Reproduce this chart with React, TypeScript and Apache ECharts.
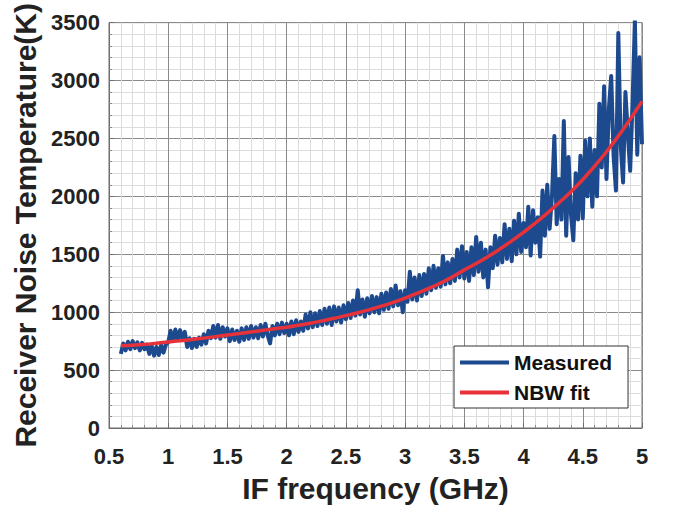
import React, { useEffect, useRef } from "react";
import * as echarts from "echarts";

// Measured receiver noise temperature (K), sampled every 0.02 GHz from 0.6 GHz
const measuredStartGHz = 0.6;
const measuredStepGHz = 0.02;
const measuredK = [
  640, 730, 670, 745, 680, 750, 690, 740, 670, 735,
  680, 720, 640, 710, 625, 700, 630, 715, 650, 720,
  740, 840, 750, 850, 760, 845, 770, 830, 700, 775,
  690, 770, 700, 780, 720, 810, 730, 840, 775, 880,
  780, 890, 770, 870, 790, 860, 750, 850, 760, 840,
  745, 860, 760, 870, 770, 880, 780, 870, 775, 890,
  790, 900, 800, 730, 880, 800, 900, 810, 910, 820,
  900, 800, 920, 810, 930, 830, 920, 840, 980, 860,
  1000, 870, 990, 880, 1010, 890, 1030, 900, 1040, 890,
  1050, 920, 1040, 910, 1060, 940, 1080, 950, 1100, 970,
  1190, 980, 1110, 960, 1120, 990, 1140, 1000, 1130, 990,
  1160, 1020, 1170, 1030, 1200, 1050, 1230, 1060, 1180, 1000,
  1190, 1090, 1350, 1110, 1300, 1100, 1320, 1140, 1330, 1160,
  1380, 1190, 1400, 1210, 1380, 1220, 1485, 1240, 1430, 1250,
  1460, 1270, 1540, 1300, 1570, 1290, 1520, 1270, 1560, 1320,
  1650, 1350, 1600, 1300, 1540, 1215, 1560, 1380, 1660, 1410,
  1640, 1430, 1760, 1460, 1720, 1440, 1790, 1500, 1850, 1520,
  1770, 1560, 1910, 1490, 1880, 1600, 1820, 1480, 2050, 1660,
  2100, 1720, 2000, 2520, 1760, 2150, 1800, 2650, 1660, 2340,
  1850, 1620, 2200, 1800, 2350, 1810, 2480, 2000, 2500, 1910,
  2400, 2000, 2800, 2250, 2950, 2150, 2750, 3040, 2350, 2050,
  3410, 2450, 2120, 2900, 2550, 2220, 2800, 3520, 2360, 3200,
  2450,
];

// NBW fit (K), sampled every 0.1 GHz from 0.6 GHz
const fitFreqGHz = [
  0.6, 0.7, 0.8, 0.9, 1.0, 1.1, 1.2, 1.3, 1.4, 1.5, 1.6, 1.7, 1.8, 1.9, 2.0, 2.1, 2.2, 2.3, 2.4, 2.5,
  2.6, 2.7, 2.8, 2.9, 3.0, 3.1, 3.2, 3.3, 3.4, 3.5, 3.6, 3.7, 3.8, 3.9, 4.0, 4.1, 4.2, 4.3, 4.4, 4.5,
  4.6, 4.7, 4.8, 4.9, 5.0,
];
const fitK = [
  710, 715, 722, 732, 743, 753, 764, 776, 789, 802, 815, 829, 843, 857, 870, 887, 905, 925, 947, 970,
  995, 1022, 1052, 1085, 1122, 1162, 1205, 1252, 1305, 1365, 1420, 1480, 1545, 1615, 1690, 1770, 1855, 1945, 2040, 2145,
  2260, 2385, 2520, 2665, 2820,
];

const xTicks = { min: 0.5, max: 5, interval: 0.5 };
const yTicks = { min: 0, max: 3500, interval: 500 };
const seriesNames = ["Measured", "NBW fit"];
const xTitle = "IF frequency (GHz)";
const yTitle = "Receiver Noise Temperature(K)";

export default function App() {
  const ref = useRef<HTMLDivElement>(null);
  useEffect(() => {
    if (!ref.current) return;
    const chart = echarts.init(ref.current, undefined, { renderer: "svg" });
    const measured = measuredK.map((v, i) => [
      +(measuredStartGHz + i * measuredStepGHz).toFixed(2),
      v,
    ]);
    const fit = fitK.map((v, i) => [fitFreqGHz[i], v]);
    const font = "'Liberation Sans', Arial, sans-serif";
    const majorColor = "#8a8a8a";
    const minorColor = "#dcdcdc";
    chart.setOption({
      animation: false,
      backgroundColor: "#ffffff",
      textStyle: { fontFamily: font },
      grid: {
        left: 109,
        right: 34,
        top: 16,
        bottom: 80,
        show: true,
        borderColor: "#6e6e6e",
        borderWidth: 1,
        backgroundColor: "transparent",
      },
      legend: {
        orient: "vertical",
        left: 454,
        top: 346,
        data: seriesNames,
        icon: "rect",
        itemWidth: 49,
        itemHeight: 4,
        itemGap: 9,
        padding: [6, 16, 5, 6],
        backgroundColor: "#ffffff",
        borderColor: "#333333",
        borderWidth: 1,
        borderRadius: 0,
        textStyle: {
          fontFamily: font,
          fontSize: 21,
          fontWeight: "bold",
          color: "#111111",
          padding: [0, 0, 0, 0],
        },
      },
      xAxis: {
        type: "value",
        min: xTicks.min,
        max: xTicks.max,
        interval: xTicks.interval,
        name: xTitle,
        nameLocation: "middle",
        nameGap: 45,
        nameTextStyle: {
          fontFamily: font,
          fontSize: 30,
          fontWeight: "bold",
          color: "#222222",
        },
        axisLine: { show: true, onZero: false, lineStyle: { color: "#6e6e6e", width: 1 } },
        axisTick: { show: true, inside: true, length: 5, lineStyle: { color: "#6e6e6e" } },
        minorTick: { show: true, splitNumber: 5, length: 3, lineStyle: { color: "#8a8a8a" } },
        axisLabel: {
          fontFamily: font,
          fontSize: 22,
          fontWeight: "bold",
          color: "#222222",
          margin: 17,
          formatter: (v: number) => String(v),
        },
        splitLine: { show: true, lineStyle: { color: majorColor, width: 1 } },
        minorSplitLine: { show: true, lineStyle: { color: minorColor, width: 1 } },
      },
      yAxis: {
        type: "value",
        min: yTicks.min,
        max: yTicks.max,
        interval: yTicks.interval,
        name: yTitle,
        nameLocation: "middle",
        nameGap: 67,
        nameRotate: 90,
        nameTextStyle: {
          fontFamily: font,
          fontSize: 30,
          fontWeight: "bold",
          color: "#222222",
        },
        axisLine: { show: true, lineStyle: { color: "#6e6e6e", width: 1 } },
        axisTick: { show: true, inside: true, length: 5, lineStyle: { color: "#6e6e6e" } },
        minorTick: { show: true, splitNumber: 5, length: 3, lineStyle: { color: "#8a8a8a" } },
        axisLabel: {
          fontFamily: font,
          fontSize: 22,
          fontWeight: "bold",
          color: "#222222",
          margin: 9,
          formatter: (v: number) => String(v),
        },
        splitLine: { show: true, lineStyle: { color: majorColor, width: 1 } },
        minorSplitLine: { show: true, lineStyle: { color: minorColor, width: 1 } },
      },
      series: [
        {
          name: seriesNames[0],
          type: "line",
          data: measured,
          showSymbol: false,
          symbol: "none",
          clip: true,
          lineStyle: { color: "#1d4a8f", width: 4, join: "round" },
          itemStyle: { color: "#1d4a8f" },
          z: 2,
        },
        {
          name: seriesNames[1],
          type: "line",
          data: fit,
          smooth: true,
          showSymbol: false,
          symbol: "none",
          clip: true,
          lineStyle: { color: "#e8323a", width: 3.5 },
          itemStyle: { color: "#e8323a" },
          z: 3,
        },
      ],
    });
    return () => chart.dispose();
  }, []);
  return (
    <div
      ref={ref}
      style={{ position: "fixed", left: 0, top: 0, width: 676, height: 508 }}
    />
  );
}
